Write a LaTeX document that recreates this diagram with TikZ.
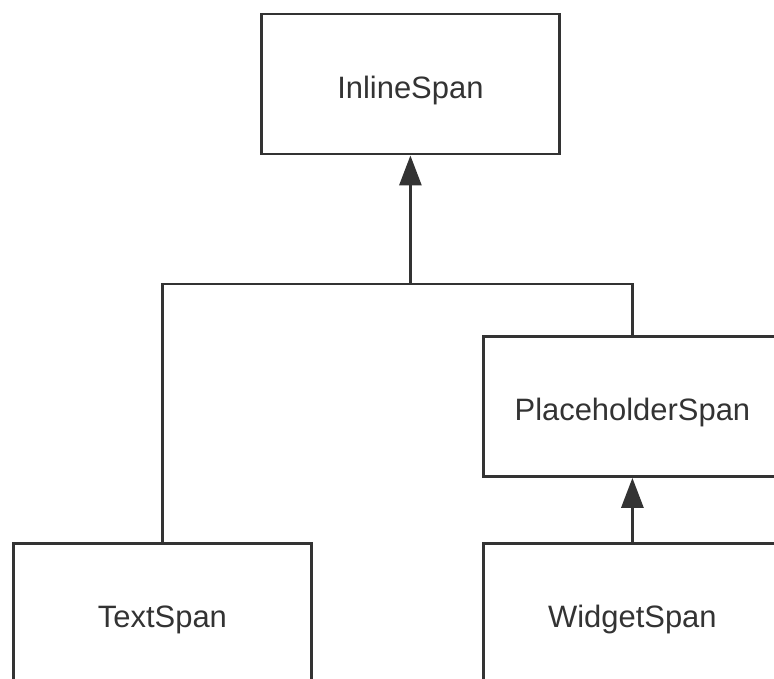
\documentclass[tikz,border=0pt]{standalone}
\usepackage{fontspec}
\setmainfont{Liberation Sans}
\definecolor{spangray}{RGB}{51, 51, 51}
\usetikzlibrary{arrows.meta, positioning, calc}

\begin{document}
\begin{tikzpicture}[
		spanbox/.style={draw=spangray, line width=2.1pt, minimum width=7.45cm,
			minimum height=3.5cm, inner sep=0pt, text=spangray,
			text height=20pt, text depth=0pt,
			font=\fontsize{22}{26}\selectfont},
		inherit/.style={draw=spangray, line width=2.1pt,
			-{Triangle[length=7.5mm, width=5.5mm]}}]
			\clip (0,0) rectangle (19.35,16.95);

			\node[spanbox] (inline) at (10.26,14.85) {InlineSpan};
			\node[spanbox] (placeholder) at (15.81,6.79) {PlaceholderSpan};
			\node[spanbox] (textspan) at (4.06,1.62) {TextSpan};
			\node[spanbox] (widget) at (15.81,1.62) {WidgetSpan};

			\coordinate (join) at (10.26,9.85);
			\draw[draw=spangray, line width=2.1pt] (textspan.north) |- (join) -| (placeholder.north);
			\draw[inherit] (join) -- (inline.south);
			\draw[inherit] (widget.north) -- (placeholder.south);
		\end{tikzpicture}
\end{document}
